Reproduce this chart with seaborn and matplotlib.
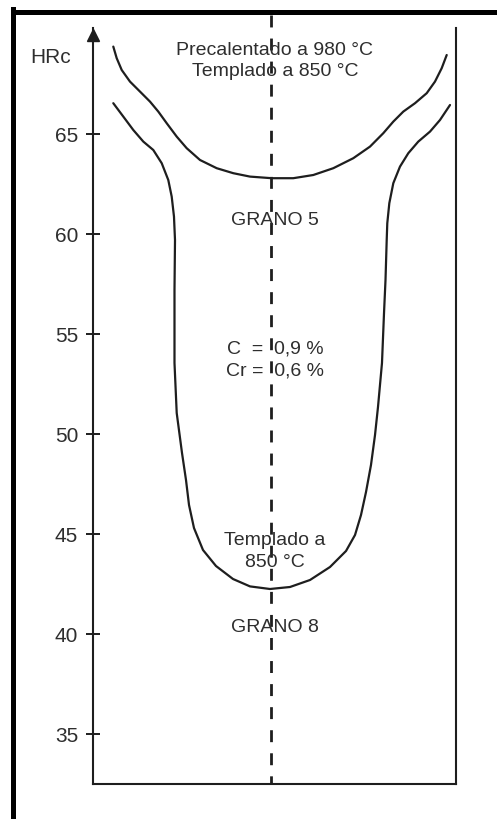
import numpy as np
import pandas as pd
import matplotlib
matplotlib.use("Agg")
import matplotlib.pyplot as plt
from matplotlib.lines import Line2D
import seaborn as sns

# Hardness profile across the section (x: position across the bar, 0-100)
x_precalentado = [5.59, 6.53, 7.91, 10.19, 12.95, 15.70, 17.99, 20.30, 23.06, 25.81, 29.48,
                  34.08, 38.65, 43.25, 49.23, 55.18, 60.69, 66.20, 71.71, 76.31, 79.97,
                  82.73, 85.48, 88.71, 91.93, 94.21, 96.06, 97.44]
hrc_precalentado = [69.37, 68.79, 68.20, 67.62, 67.12, 66.62, 66.12, 65.54, 64.87, 64.29, 63.70,
                    63.29, 63.04, 62.87, 62.79, 62.79, 62.95, 63.29, 63.79, 64.37, 65.04,
                    65.62, 66.12, 66.54, 67.04, 67.62, 68.29, 68.95]

x_templado = [5.59, 8.35, 11.10, 13.86, 16.61, 18.93, 20.74, 21.68, 22.31, 22.59, 22.45,
              22.45, 23.06, 24.52, 25.62, 26.45, 27.82, 30.30, 33.88, 38.57, 43.25, 48.76,
              54.27, 59.78, 65.29, 69.70, 72.18, 73.83, 75.21, 76.58, 77.69, 78.51, 79.61,
              80.17, 80.58, 80.91, 81.07, 81.63, 82.73, 84.57, 86.86, 89.61, 92.84, 95.59,
              98.35]
hrc_templado = [66.54, 65.87, 65.20, 64.62, 64.20, 63.54, 62.70, 61.87, 60.87, 59.70, 57.20,
                53.55, 51.05, 49.05, 47.70, 46.45, 45.30, 44.20, 43.40, 42.75, 42.38, 42.25,
                42.35, 42.70, 43.35, 44.15, 44.95, 45.95, 47.10, 48.45, 49.95, 51.35, 53.55,
                56.05, 57.70, 59.70, 60.54, 61.54, 62.54, 63.37, 64.04, 64.62, 65.12, 65.70,
                66.45]

y_ticks = [35, 40, 45, 50, 55, 60, 65]
y_label = "HRc"
centro_x = 49.0

df_pre = pd.DataFrame({"x": x_precalentado, "hrc": hrc_precalentado})
df_tem = pd.DataFrame({"x": x_templado, "hrc": hrc_templado})

sns.set_style("white")
plt.rcParams["font.family"] = ["Liberation Sans", "DejaVu Sans"]

ink = "#1e1e1e"
txt = "#2e2e2e"

fig = plt.figure(figsize=(4.97, 8.19), dpi=100)
ax = fig.add_axes([93 / 497, 35 / 819, 363 / 497, 756 / 819])

for df in (df_pre, df_tem):
    sns.lineplot(data=df, x="x", y="hrc", ax=ax, sort=False, estimator=None,
                 color=ink, lw=1.6, solid_joinstyle="round", solid_capstyle="round")

ax.set_xlim(0, 100)
ax.set_ylim(32.5, 70.3)
ax.set_xlabel("")
ax.set_ylabel("")
ax.set_xticks([])
ax.set_yticks(y_ticks)
ax.set_yticklabels([str(t) for t in y_ticks])
ax.tick_params(axis="y", direction="inout", length=9.4, width=1.4, pad=6.0,
               labelsize=15, colors=ink, labelcolor=txt, left=True)

for side in ["left", "bottom", "right"]:
    ax.spines[side].set_visible(True)
    ax.spines[side].set_color(ink)
    ax.spines[side].set_linewidth(1.5)
ax.spines["top"].set_visible(False)

# arrow head on the hardness axis
ax.plot([0], [69.95], marker="^", markersize=9, color=ink, clip_on=False)

# centre line of the section
ax.plot([centro_x, centro_x], [70.95, 32.5], color=ink, lw=2.0,
        linestyle=(0, (4.3, 4.0)), clip_on=False)

ax.text(-11.6, 68.55, y_label, ha="center", va="baseline", fontsize=15,
        color=txt, clip_on=False)

tx = 50.1
ax.text(tx, 68.95, "Precalentado a 980 °C", ha="center", va="baseline", fontsize=14, color=txt)
ax.text(tx, 67.9, "Templado a 850 °C", ha="center", va="baseline", fontsize=14, color=txt)
ax.text(tx, 60.45, "GRANO 5", ha="center", va="baseline", fontsize=14, color=txt)
ax.text(tx, 54.05, "C  =  0,9 %", ha="center", va="baseline", fontsize=14, color=txt)
ax.text(tx, 52.95, "Cr =  0,6 %", ha="center", va="baseline", fontsize=14, color=txt)
ax.text(tx, 44.45, "Templado a", ha="center", va="baseline", fontsize=14, color=txt)
ax.text(tx, 43.35, "850 °C", ha="center", va="baseline", fontsize=14, color=txt)
ax.text(tx, 40.1, "GRANO 8", ha="center", va="baseline", fontsize=14, color=txt)

# page frame (left and top edges)
fig.add_artist(Line2D([12.5 / 497, 12.5 / 497], [0, 1 - 9 / 819], transform=fig.transFigure,
                      color="black", lw=3.6, solid_capstyle="projecting"))
fig.add_artist(Line2D([12.5 / 497, 1], [1 - 11.5 / 819, 1 - 11.5 / 819], transform=fig.transFigure,
                      color="black", lw=3.6, solid_capstyle="projecting"))

fig.savefig("out.png", dpi=100)
